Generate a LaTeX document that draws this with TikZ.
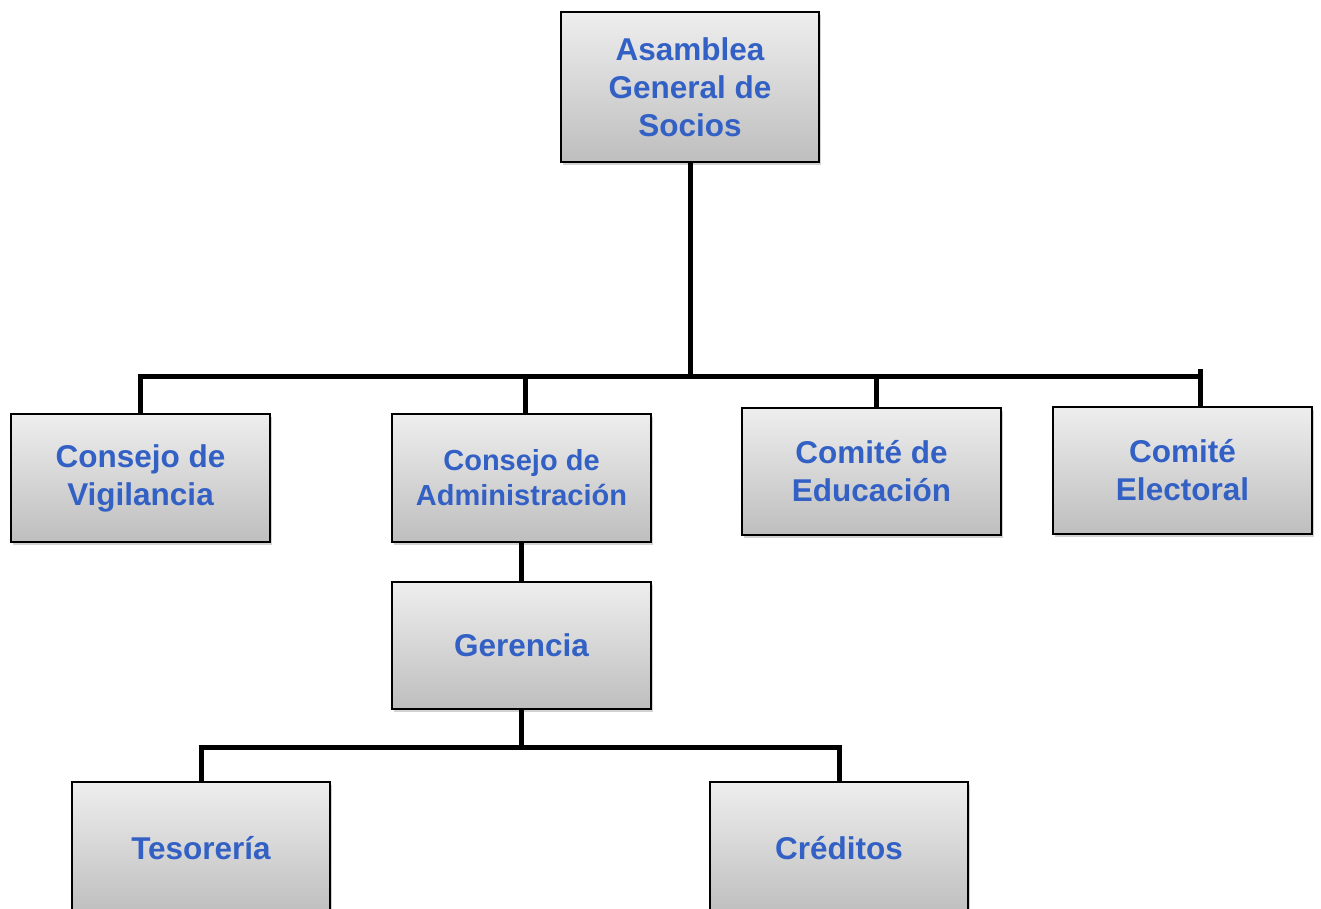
\documentclass[tikz,border=0pt]{standalone}
\usepackage{fontspec}
\setmainfont{Liberation Sans}
\usetikzlibrary{shadows,calc}
\definecolor{txtblue}{RGB}{50,96,196}
\definecolor{boxtop}{RGB}{238,238,238}
\definecolor{boxbot}{RGB}{190,190,190}
\tikzset{
  orgbox/.style={draw=black, line width=1.5pt, top color=boxtop, bottom color=boxbot,
    minimum width=258pt, minimum height=127pt, inner sep=0pt, align=center,
    text=txtblue, font=\bfseries\fontsize{31.5}{38}\selectfont,
    drop shadow={shadow xshift=2pt, shadow yshift=-3pt, opacity=0.35}},
  conn/.style={draw=black, line width=5pt, line join=miter},
}
\begin{document}
\begin{tikzpicture}[x=1pt,y=-1pt]
\useasboundingbox (0,0) rectangle (1321,908);
\clip (0,0) rectangle (1321,908);
\fill[white] (0,0) rectangle (1321,908);

\node[orgbox, minimum height=150pt] (asam) at (690,87) {Asamblea\\General de\\Socios};
\node[orgbox, minimum width=259pt, minimum height=128pt] (vig) at (140.5,478) {Consejo de\\Vigilancia};
\node[orgbox, minimum width=259pt, minimum height=128pt, font=\bfseries\fontsize{29}{35}\selectfont] (adm) at (521.5,478) {Consejo de\\Administración};
\node[orgbox, minimum width=259pt] (edu) at (871.5,471.5) {Comité de\\Educación};
\node[orgbox, minimum width=259pt] (ele) at (1182.5,470.5) {Comité\\Electoral};
\node[orgbox, minimum width=259pt] (ger) at (521.5,645.5) {Gerencia};
\node[orgbox, minimum height=132pt] (tes) at (201,848) {Tesorería};
\node[orgbox, minimum height=132pt] (cre) at (839,848) {Créditos};

\coordinate (bus) at (690,376);
\coordinate (eletop) at (1200,369);
\coordinate (bus2) at (521.5,747);

\draw[conn] (asam.south) -- (bus);
\draw[conn] (vig.north) |- (bus) -| (eletop);
\draw[conn] (eletop) -- (eletop |- ele.north);
\draw[conn] ([xshift=3.5pt]adm.north) -- ([xshift=3.5pt]adm.north |- bus);
\draw[conn] ([xshift=4.5pt]edu.north) -- ([xshift=4.5pt]edu.north |- bus);
\draw[conn] (adm.south) -- (ger.north);
\draw[conn] (ger.south) -- (bus2);
\draw[conn] (tes.north) |- (bus2) -| (cre.north);
\end{tikzpicture}
\end{document}
